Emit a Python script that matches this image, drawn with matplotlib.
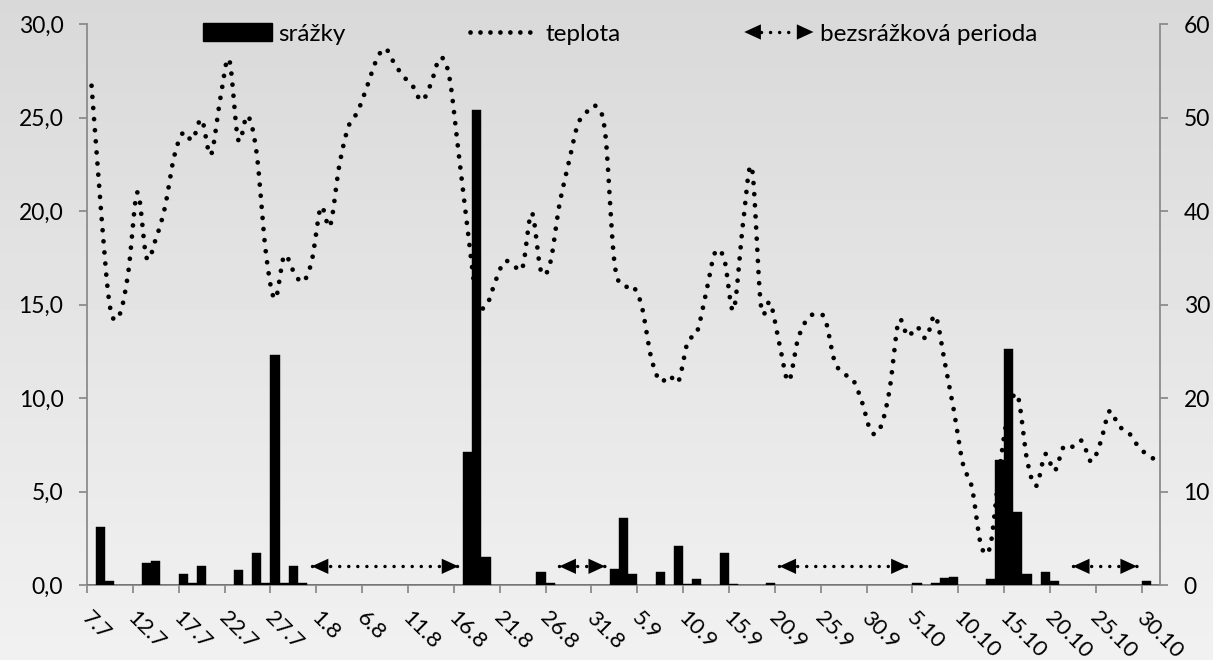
import numpy as np
import matplotlib.pyplot as plt
import matplotlib.transforms as mtransforms
from matplotlib.patches import Patch, Polygon
from matplotlib.lines import Line2D
from matplotlib.legend_handler import HandlerBase

plt.rcParams['font.family'] = ['Lato', 'DejaVu Sans']

# one value per day, 7.7. - 31.10.
tick_labels = ['7.7', '12.7', '17.7', '22.7', '27.7', '1.8', '6.8', '11.8',
               '16.8', '21.8', '26.8', '31.8', '5.9', '10.9', '15.9', '20.9',
               '25.9', '30.9', '5.10', '10.10', '15.10', '20.10', '25.10', '30.10']

temperature = [26.7, 20.2, 14.9, 14.4, 16.7, 21.0, 17.5, 18.5, 20.2, 22.9,
               24.2, 23.8, 24.9, 23.0, 25.9, 28.1, 23.8, 25.1, 23.1, 17.8,
               15.3, 17.6, 16.8, 16.2, 17.3, 20.2, 19.2, 22.4, 24.5, 25.3,
               26.6, 28.0, 28.7, 27.9, 27.2, 26.7, 25.9, 26.8, 28.2, 27.2,
               23.2, 19.0, 15.3, 14.9, 16.2, 17.3, 17.1, 17.0, 19.9, 16.8,
               17.2, 20.3, 22.5, 24.6, 25.3, 25.6, 24.2, 17.3, 16.0, 16.0,
               14.9, 12.2, 10.9, 11.2, 10.9, 13.0, 13.5, 15.6, 17.8, 17.4,
               14.7, 19.2, 22.3, 14.9, 15.1, 12.9, 10.9, 13.1, 14.2, 14.5,
               14.2, 12.0, 11.3, 11.0, 9.8, 8.2, 8.4, 10.4, 14.1, 13.3,
               13.8, 13.2, 14.4, 12.0, 9.4, 6.5, 5.2, 2.1, 2.1, 6.2,
               9.3, 10.1, 6.7, 5.3, 7.0, 6.1, 7.4, 7.4, 7.7, 6.6,
               7.6, 9.3, 8.5, 8.2, 7.5, 7.0, 6.7]

precipitation = [0, 6.2, 0.4, 0, 0, 0, 2.4, 2.6, 0, 0,
                 1.2, 0.2, 2.0, 0, 0, 0, 1.6, 0, 3.4, 0.2,
                 24.6, 0.2, 2.0, 0.2, 0, 0, 0, 0, 0, 0,
                 0, 0, 0, 0, 0, 0, 0, 0, 0, 0,
                 0, 14.2, 50.8, 3.0, 0, 0, 0, 0, 0, 1.4,
                 0.2, 0, 0, 0, 0, 0, 0, 1.7, 7.2, 1.2,
                 0, 0, 1.4, 0, 4.2, 0.1, 0.6, 0, 0, 3.4,
                 0.1, 0, 0, 0, 0.2, 0, 0, 0, 0, 0,
                 0, 0, 0, 0, 0, 0, 0, 0, 0, 0,
                 0.2, 0, 0.2, 0.7, 0.9, 0, 0, 0, 0.6, 13.4,
                 25.2, 7.8, 1.2, 0, 1.4, 0.4, 0, 0, 0, 0,
                 0, 0, 0, 0, 0, 0.4, 0]

# dry periods (first day, last day), drawn at 2 mm
dry_periods = [(24, 40), (51, 56), (75, 89), (107, 114)]
dry_level = 2.0

DOT_T = (0, (0.01, 2.35))   # temperature dots
DOT_D = (0, (0.01, 2.6))    # dry period dots


def smooth(x, y, n=20):
    # catmull-rom like excel "smoothed line"
    x = np.asarray(x, float)
    y = np.asarray(y, float)
    m = np.zeros_like(y)
    m[1:-1] = (y[2:] - y[:-2]) / 2
    m[0] = y[1] - y[0]
    m[-1] = y[-1] - y[-2]
    xs, ys = [], []
    for i in range(len(y) - 1):
        t = np.linspace(0, 1, n, endpoint=False)
        h00 = 2*t**3 - 3*t**2 + 1
        h10 = t**3 - 2*t**2 + t
        h01 = -2*t**3 + 3*t**2
        h11 = t**3 - t**2
        xs.append(x[i] + t*(x[i+1] - x[i]))
        ys.append(h00*y[i] + h10*m[i] + h01*y[i+1] + h11*m[i+1])
    xs.append([x[-1]])
    ys.append([y[-1]])
    return np.concatenate(xs), np.concatenate(ys)


class DryKey:
    pass


class HandlerDry(HandlerBase):
    def create_artists(self, legend, orig_handle, xdescent, ydescent,
                       width, height, fontsize, trans):
        x0 = -xdescent
        x1 = width - xdescent
        y = height / 2 - ydescent
        hl, hw = 12.0, 5.5
        line = Line2D([x0 + hl, x1 - hl], [y, y], color='black', lw=2.5,
                      linestyle=DOT_D, dash_capstyle='round')
        left = Polygon([(x0, y), (x0 + hl, y + hw), (x0 + hl, y - hw)],
                       closed=True, color='black', lw=0)
        right = Polygon([(x1, y), (x1 - hl, y + hw), (x1 - hl, y - hw)],
                        closed=True, color='black', lw=0)
        for a in (line, left, right):
            a.set_transform(trans)
        return [line, left, right]


fig = plt.figure(figsize=(12.13, 6.6), dpi=100)

# grey gradient background
bg = fig.add_axes([0, 0, 1, 1], zorder=-10)
grad = np.linspace(0.85, 0.945, 200).reshape(-1, 1)
bg.imshow(grad, aspect='auto', cmap='gray', vmin=0, vmax=1,
          extent=[0, 1, 0, 1], origin='upper')
bg.axis('off')

ax = fig.add_axes([0.0717, 0.1136, 0.8846, 0.85])
ax.patch.set_alpha(0)
ax2 = ax.twinx()
ax2.patch.set_alpha(0)

n = len(temperature)
days = np.arange(n) + 0.5

xs, ys = smooth(days, temperature)
ax.plot(xs, ys, color='black', lw=3.4, linestyle=DOT_T,
        dash_capstyle='round')

ax2.bar(days, precipitation, width=1.0, color='black', edgecolor='black',
        linewidth=0.3)

for start, end in dry_periods:
    ax2.plot([start + 0.5, end + 0.5], [dry_level, dry_level], color='black',
             lw=2.5, linestyle=DOT_D, dash_capstyle='round')
    ax2.annotate('', xy=(start + 0.5, dry_level), xytext=(end + 0.5, dry_level),
                 arrowprops=dict(arrowstyle='<|-|>,head_length=12,head_width=5.5',
                                 mutation_scale=1, color='black', lw=0,
                                 shrinkA=0, shrinkB=0))

ax.set_xlim(0, n)
ax.set_ylim(0, 30)
ax2.set_ylim(0, 60)

ax.set_xticks(np.arange(0, n, 5))
ax.set_xticklabels(tick_labels)
ax.set_yticks(np.arange(0, 31, 5))
ax.set_yticklabels([('%.1f' % v).replace('.', ',') for v in np.arange(0, 31, 5)])
ax2.set_yticks(np.arange(0, 61, 10))
ax2.set_yticklabels(['%d' % v for v in np.arange(0, 61, 10)])

spine_col = '#8c8c8c'
for a in (ax, ax2):
    a.spines['top'].set_visible(False)
    for s in ('left', 'right', 'bottom'):
        a.spines[s].set_color(spine_col)
        a.spines[s].set_linewidth(1.3)
ax.spines['right'].set_visible(False)
ax2.spines['left'].set_visible(False)
ax2.spines['bottom'].set_visible(False)

ax.tick_params(axis='y', length=6, width=1.3, color=spine_col, labelsize=16.5, pad=11)
ax2.tick_params(axis='y', length=6, width=1.3, color=spine_col, labelsize=16.5, pad=11)
ax.tick_params(axis='x', length=6, width=1.3, color=spine_col, labelsize=16, pad=10)
shift = mtransforms.ScaledTranslation(5 / 100, 0, fig.dpi_scale_trans)
for lab in ax.get_xticklabels():
    lab.set_rotation(-45)
    lab.set_ha('left')
    lab.set_va('top')
    lab.set_rotation_mode('anchor')
    lab.set_transform(lab.get_transform() + shift)

handles = [Patch(facecolor='black', edgecolor='black'),
           Line2D([], [], color='black', lw=3.4, linestyle=(0, (0.01, 2.1)),
                  dash_capstyle='round'),
           DryKey()]
labels = ['srážky', 'teplota', 'bezsrážková perioda']
leg = ax2.legend(handles, labels, ncol=3, loc='center left',
                 bbox_to_anchor=(203 / 1213, 1 - 34 / 660),
                 bbox_transform=fig.transFigure, frameon=False, fontsize=17.5,
                 handlelength=2.85, handletextpad=0.25, columnspacing=5.1,
                 borderpad=0, borderaxespad=0,
                 handler_map={DryKey: HandlerDry()})

fig.savefig('out.png', dpi=100)
